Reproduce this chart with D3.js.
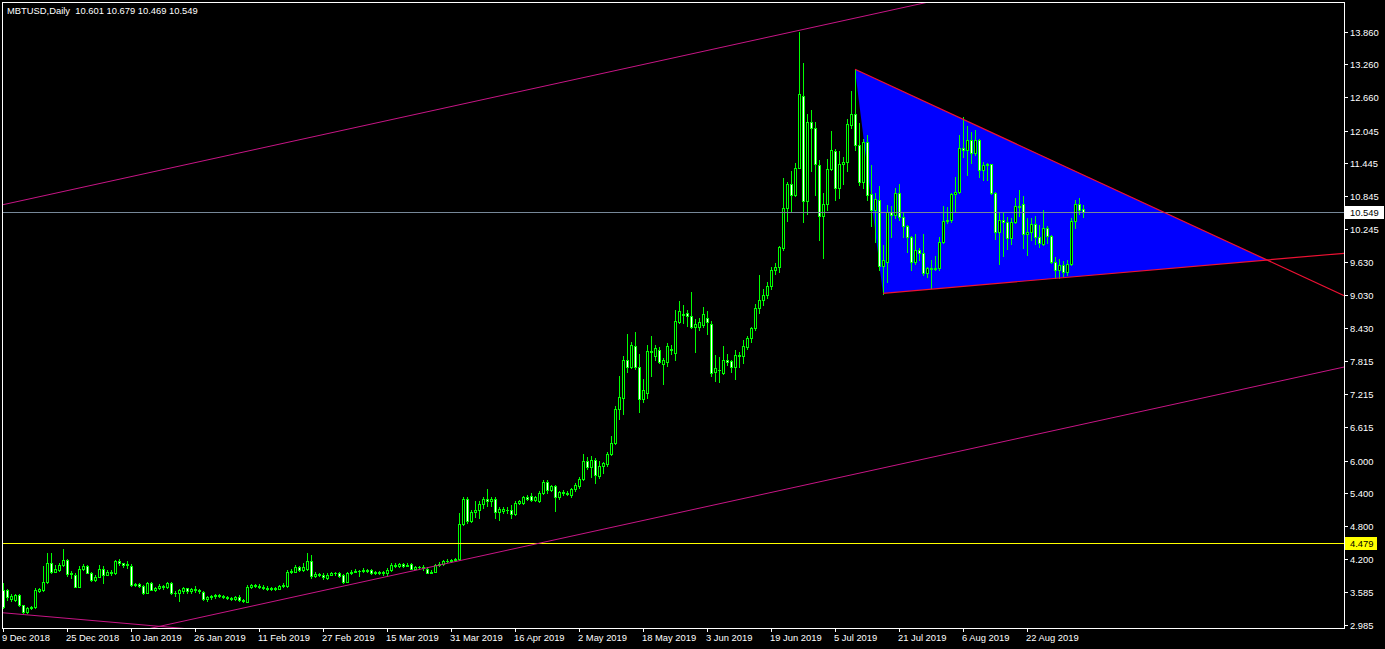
<!DOCTYPE html>
<html><head><meta charset="utf-8">
<script src="https://cdn.jsdelivr.net/npm/d3@7"></script>
<style>
html,body{margin:0;padding:0;background:#000;overflow:hidden}
svg{display:block}
text{font-family:"Liberation Sans",Arial,sans-serif;font-size:9.4px}
</style>
</head><body>
<svg id="chart" width="1385" height="649"></svg>
<script>
// ---------------- data ----------------
const symbolTitle = "MBTUSD,Daily  10.601 10.679 10.469 10.549";
const startDate = "2018-12-09"; // first daily bar, one bar per calendar day

const open = [
3.63,3.63,3.47,3.44,3.54,3.35,3.23,3.29,3.32,3.61,
3.63,3.78,4.13,3.96,4.00,4.09,4.18,3.92,3.90,3.69,
4.02,4.07,3.94,3.81,3.87,4.02,3.91,3.96,3.94,4.16,
4.12,4.09,4.07,3.72,3.73,3.70,3.58,3.76,3.63,3.66,
3.70,3.69,3.76,3.58,3.57,3.60,3.66,3.60,3.64,3.62,
3.59,3.47,3.49,3.51,3.54,3.52,3.50,3.48,3.46,3.50,
3.44,3.41,3.68,3.72,3.70,3.68,3.66,3.64,3.67,3.65,
3.70,3.70,3.96,3.96,4.04,4.00,4.02,4.15,3.88,3.92,
3.91,3.84,3.91,3.94,3.93,3.90,3.78,3.93,3.96,3.98,
3.97,3.99,3.99,3.93,3.96,3.94,3.93,3.99,4.08,4.06,
4.10,4.07,4.10,4.02,4.05,4.04,4.02,3.94,3.96,4.08,
4.10,4.16,4.16,4.17,4.19,4.84,5.29,4.90,5.05,5.09,
5.20,5.29,5.25,5.29,5.05,5.08,5.10,5.10,5.02,5.22,
5.22,5.33,5.35,5.28,5.26,5.40,5.61,5.46,5.53,5.33,
5.43,5.40,5.37,5.47,5.53,5.67,5.99,5.89,6.01,5.72,
5.90,5.93,6.12,6.32,6.94,7.14,7.84,7.72,8.10,7.71,
7.12,7.23,8.00,7.92,8.03,7.76,7.81,8.04,7.97,8.53,
8.68,8.70,8.65,8.44,8.44,8.48,8.61,8.50,7.62,7.66,
7.61,7.85,7.82,7.71,7.93,7.92,8.08,8.24,8.42,8.79,
8.94,9.03,9.20,9.49,9.55,9.89,10.62,11.06,10.86,11.37,
12.69,10.75,12.20,12.10,11.42,10.49,10.71,11.34,11.67,10.99,
11.43,11.47,12.15,12.35,11.78,11.11,11.84,10.88,10.60,10.78,
9.57,9.64,10.56,10.50,10.90,10.47,10.30,10.10,9.63,9.86,
9.80,9.43,9.52,9.51,9.53,10.01,10.39,10.40,10.88,10.93,
11.72,11.70,11.87,11.63,11.87,11.33,11.41,11.43,10.90,10.18,
10.40,10.38,10.07,10.38,10.67,10.70,10.15,10.19,10.34,10.09,
9.97,10.26,10.11,9.64,9.49,9.59,9.46,9.61,10.39,10.70,
10.601];

const high = [
3.75,3.65,3.55,3.56,3.56,3.36,3.31,3.34,3.66,3.67,
4.06,4.30,4.30,4.08,4.12,4.38,4.19,3.97,3.93,4.06,
4.10,4.09,3.96,3.90,4.08,4.06,4.00,3.99,4.18,4.19,
4.13,4.15,4.10,3.76,3.75,3.72,3.78,3.78,3.68,3.73,
3.72,3.78,3.78,3.60,3.64,3.68,3.67,3.66,3.70,3.64,
3.60,3.51,3.53,3.56,3.56,3.54,3.52,3.50,3.51,3.53,
3.46,3.72,3.74,3.73,3.73,3.72,3.70,3.68,3.69,3.72,
3.75,3.99,4.02,4.08,4.06,4.12,4.30,4.27,3.95,3.94,
3.93,3.93,3.96,3.96,3.95,3.92,3.96,3.99,4.01,4.00,
4.03,4.02,4.01,3.98,3.98,3.98,4.03,4.12,4.12,4.12,
4.12,4.13,4.12,4.07,4.07,4.08,4.05,3.99,4.11,4.14,
4.18,4.19,4.20,4.22,5.03,5.33,5.33,5.10,5.26,5.25,
5.34,5.48,5.34,5.34,5.15,5.14,5.14,5.18,5.25,5.28,
5.35,5.37,5.40,5.35,5.45,5.65,5.65,5.56,5.55,5.45,
5.46,5.44,5.50,5.58,5.70,6.12,6.06,6.08,6.05,5.99,
5.98,6.15,6.45,7.00,7.54,7.92,8.32,8.18,8.36,7.95,
7.49,8.11,8.28,8.11,8.08,7.88,8.15,8.12,8.75,8.92,
8.85,8.75,9.09,8.60,8.61,8.81,8.74,8.55,7.93,7.90,
8.09,7.95,7.84,8.03,7.99,8.21,8.28,8.45,8.87,9.40,
9.15,9.28,9.55,9.62,9.94,11.17,11.11,11.31,11.45,13.85,
13.28,12.36,12.43,12.20,11.50,10.90,11.53,12.04,11.71,11.67,
11.57,12.26,12.77,13.16,12.18,11.90,11.96,11.42,10.90,11.03,
9.95,10.68,10.67,10.99,11.07,10.55,10.32,10.12,10.16,9.89,
10.16,9.55,9.68,9.74,10.10,10.66,10.65,10.90,11.20,11.97,
12.30,12.13,12.03,12.05,11.90,11.48,11.45,11.44,10.92,10.53,
10.53,10.46,10.45,10.82,10.96,10.84,10.44,10.44,10.48,10.32,
10.59,10.30,10.14,9.73,9.70,9.66,9.68,10.44,10.78,10.81,
10.679];

const low = [
3.29,3.45,3.42,3.43,3.33,3.20,3.21,3.28,3.30,3.59,
3.61,3.76,3.94,3.95,3.98,4.07,3.88,3.85,3.68,3.68,
4.00,3.93,3.79,3.80,3.86,3.76,3.90,3.90,3.92,4.08,
4.05,4.03,3.70,3.70,3.68,3.56,3.57,3.62,3.60,3.64,
3.64,3.67,3.56,3.52,3.43,3.58,3.58,3.58,3.59,3.58,
3.44,3.42,3.46,3.48,3.50,3.48,3.46,3.44,3.44,3.43,
3.41,3.40,3.66,3.68,3.66,3.64,3.62,3.63,3.63,3.64,
3.68,3.69,3.93,3.95,3.97,3.98,4.00,3.85,3.86,3.88,
3.83,3.82,3.90,3.91,3.87,3.76,3.77,3.92,3.95,3.88,
3.96,3.95,3.92,3.92,3.92,3.91,3.90,3.98,4.04,4.04,
4.05,4.06,4.01,4.01,4.02,4.00,3.93,3.93,3.95,4.07,
4.09,4.14,4.14,4.15,4.17,4.81,4.85,4.88,4.97,4.94,
5.13,5.16,5.17,4.94,4.91,5.04,5.04,4.95,5.00,5.20,
5.20,5.28,5.26,5.26,5.24,5.38,5.40,5.44,5.08,5.30,
5.37,5.36,5.33,5.44,5.49,5.65,5.85,5.70,5.59,5.68,
5.78,5.90,6.10,6.30,6.77,6.86,7.63,7.70,7.68,6.89,
7.08,7.15,7.55,7.85,7.78,7.40,7.74,7.95,7.85,8.52,
8.52,8.47,8.42,7.98,8.40,8.45,8.31,7.54,7.46,7.44,
7.59,7.75,7.63,7.50,7.71,7.79,8.05,8.18,8.40,8.70,
8.85,8.98,9.15,9.42,9.45,9.86,10.39,10.56,10.85,11.36,
10.38,10.51,11.30,10.87,10.04,9.71,10.59,11.33,10.78,10.81,
11.06,11.30,12.10,11.70,11.05,10.99,10.78,10.30,10.00,9.49,
9.06,9.28,10.10,10.45,10.40,10.09,9.83,9.49,9.60,9.68,
9.40,9.37,9.16,9.49,9.49,9.98,10.35,10.38,10.56,10.90,
11.57,11.23,11.45,11.60,11.20,11.14,11.15,10.89,10.06,9.61,
9.75,9.88,9.96,10.35,10.48,9.89,9.77,10.05,9.96,9.92,
9.95,9.99,9.62,9.34,9.34,9.38,9.40,9.58,10.27,10.51,
10.469];

const close = [
3.32,3.50,3.52,3.54,3.35,3.23,3.29,3.32,3.63,3.64,
3.78,4.12,3.96,4.02,4.09,4.18,3.92,3.93,3.69,4.02,
4.07,3.94,3.81,3.87,4.02,3.91,3.96,3.94,4.15,4.12,
4.09,4.10,3.72,3.73,3.70,3.58,3.76,3.63,3.66,3.70,
3.68,3.76,3.58,3.57,3.63,3.66,3.60,3.64,3.62,3.60,
3.47,3.49,3.52,3.54,3.52,3.50,3.48,3.46,3.49,3.44,
3.43,3.68,3.72,3.70,3.68,3.66,3.64,3.67,3.65,3.70,
3.72,3.96,3.98,4.04,4.00,4.05,4.15,3.88,3.92,3.91,
3.86,3.91,3.94,3.93,3.89,3.78,3.93,3.96,3.98,3.97,
3.99,3.97,3.93,3.96,3.94,3.95,4.00,4.08,4.06,4.10,
4.07,4.09,4.02,4.05,4.04,4.03,3.94,3.96,4.08,4.10,
4.16,4.16,4.17,4.19,4.84,5.29,4.90,5.05,5.10,5.20,
5.29,5.25,5.29,5.05,5.11,5.12,5.09,5.02,5.23,5.25,
5.33,5.30,5.28,5.33,5.41,5.61,5.46,5.53,5.33,5.43,
5.40,5.39,5.47,5.55,5.67,5.99,5.89,6.01,5.74,5.90,
5.95,6.12,6.33,6.94,7.16,7.84,7.72,8.12,7.71,7.12,
7.29,8.01,7.98,8.06,7.81,7.85,8.10,8.03,8.56,8.74,
8.67,8.64,8.44,8.50,8.53,8.69,8.53,7.61,7.69,7.65,
7.85,7.81,7.71,7.93,7.91,8.10,8.24,8.42,8.79,8.94,
9.03,9.20,9.49,9.55,9.92,10.62,11.06,10.86,11.36,12.71,
10.75,12.20,12.10,11.43,10.49,10.71,11.34,11.69,10.99,11.43,
11.48,12.16,12.36,11.78,11.11,11.84,10.87,10.60,10.79,9.57,
9.68,10.56,10.50,10.90,10.47,10.30,10.10,9.63,9.86,9.80,
9.43,9.52,9.51,9.53,10.01,10.39,10.40,10.88,10.93,11.72,
11.70,11.87,11.63,11.87,11.33,11.41,11.43,10.90,10.18,10.40,
10.38,10.07,10.38,10.67,10.65,10.15,10.19,10.34,10.09,9.98,
10.26,10.11,9.64,9.49,9.59,9.46,9.61,10.39,10.70,10.60,
10.549];

const xTickLabels = ["9 Dec 2018","25 Dec 2018","10 Jan 2019","26 Jan 2019","11 Feb 2019",
  "27 Feb 2019","15 Mar 2019","31 Mar 2019","16 Apr 2019","2 May 2019","18 May 2019",
  "3 Jun 2019","19 Jun 2019","5 Jul 2019","21 Jul 2019","6 Aug 2019","22 Aug 2019"];
const yTickLabels = ["13.860","13.260","12.660","12.045","11.445","10.845","10.245","9.630",
  "9.030","8.430","7.815","7.215","6.615","6.000","5.400","4.800","4.200","3.585","2.985"];

const bidPrice = 10.549;      // current bid line
const levelPrice = 4.479;     // yellow horizontal level

// drawn objects (time, price anchors)
const channelUpper = [{date:"2018-12-09", price:10.689}, {date:"2019-07-27", price:14.382}];
const channelLower = [{date:"2019-04-01", price:4.146},  {date:"2019-09-05", price:6.666}];
const oldTrend     = [{date:"2018-12-09", price:3.209},  {date:"2019-01-18", price:2.955}];
const triangleA = {date:"2019-07-10", price:13.171};
const triangleB = {date:"2019-07-17", price:9.065};
const triangleC = {date:"2019-10-21", price:9.676};

// ---------------- drawing ----------------
const svg = d3.select("#chart");
const plot = {left:2, top:2, right:1344, bottom:628};
const parseISO = d3.utcParse("%Y-%m-%d");
const parseLabel = d3.utcParse("%e %b %Y");
const t0 = parseISO(startDate);

const x = d3.scaleUtc().domain([t0, d3.utcDay.offset(t0, 100)]).range([3, 403]);
const y = d3.scaleLinear().domain([2.985, 13.860]).range([625, 31.7]);

const bars = open.map((o, i) => ({date: d3.utcDay.offset(t0, i), o, h: high[i], l: low[i], c: close[i]}));

svg.append("rect").attr("width", 1385).attr("height", 649).attr("fill", "#000");

svg.append("defs").append("clipPath").attr("id", "plotClip")
  .append("rect").attr("x", plot.left).attr("y", plot.top)
  .attr("width", plot.right - plot.left).attr("height", plot.bottom - plot.top);

const g = svg.append("g").attr("clip-path", "url(#plotClip)");

const P = d => ({px: x(parseISO(d.date)), py: y(d.price)});

// triangle (background object)
const A = P(triangleA), B = P(triangleB), C = P(triangleC);
g.append("polygon")
  .attr("points", [A, B, C].map(p => p.px + "," + p.py).join(" "))
  .attr("fill", "#0000ff");

// candles
const cg = g.append("g").attr("shape-rendering", "crispEdges");
bars.forEach(d => {
  const cx = Math.round(x(d.date));
  cg.append("line")
    .attr("x1", cx + 0.5).attr("x2", cx + 0.5)
    .attr("y1", Math.round(y(d.h))).attr("y2", Math.round(y(d.l)) + 1)
    .attr("stroke", "#00ff00").attr("stroke-width", 1);
  const yo = Math.round(y(d.o)), yc = Math.round(y(d.c));
  const top = Math.min(yo, yc), bot = Math.max(yo, yc);
  if (bot - top < 1) {
    cg.append("line").attr("x1", cx - 1).attr("x2", cx + 2)
      .attr("y1", top + 0.5).attr("y2", top + 0.5)
      .attr("stroke", "#00ff00").attr("stroke-width", 1);
  } else {
    cg.append("rect")
      .attr("x", cx - 0.5).attr("y", top + 0.5)
      .attr("width", 2).attr("height", bot - top)
      .attr("fill", d.c >= d.o ? "#000000" : "#ffffff")
      .attr("stroke", "#00ff00").attr("stroke-width", 1);
  }
});

// helper: line through two pixel points, evaluated at given x
function lineAt(p1, p2, xx) { return p1.py + (p2.py - p1.py) * (xx - p1.px) / (p2.px - p1.px); }
function fullLine(anchors, color) {
  const p1 = P(anchors[0]), p2 = P(anchors[1]);
  g.append("line").attr("x1", -20).attr("y1", lineAt(p1, p2, -20))
    .attr("x2", 1400).attr("y2", lineAt(p1, p2, 1400))
    .attr("stroke", color).attr("stroke-width", 1);
}
function ray(p1, p2, color) {
  g.append("line").attr("x1", p1.px).attr("y1", p1.py)
    .attr("x2", 1400).attr("y2", lineAt(p1, p2, 1400))
    .attr("stroke", color).attr("stroke-width", 1.2);
}

// horizontal lines
g.append("line").attr("x1", plot.left).attr("x2", plot.right)
  .attr("y1", Math.round(y(levelPrice)) + 0.5).attr("y2", Math.round(y(levelPrice)) + 0.5)
  .attr("stroke", "#ffff00").attr("stroke-width", 1);
g.append("line").attr("x1", plot.left).attr("x2", plot.right)
  .attr("y1", Math.round(y(bidPrice)) + 0.5).attr("y2", Math.round(y(bidPrice)) + 0.5)
  .attr("stroke", "#778899").attr("stroke-width", 1);

// channel + trend lines
fullLine(channelUpper, "#c71585");
fullLine(channelLower, "#c71585");
fullLine(oldTrend, "#c71585");
ray(A, C, "#ee1133");
ray(B, C, "#ee1133");

// frame
svg.append("rect").attr("x", plot.left + 0.5).attr("y", plot.top + 0.5)
  .attr("width", plot.right - plot.left).attr("height", plot.bottom - plot.top)
  .attr("fill", "none").attr("stroke", "#ffffff").attr("stroke-width", 1)
  .attr("shape-rendering", "crispEdges");

// price axis
const ya = svg.append("g");
yTickLabels.forEach(t => {
  const yy = Math.round(y(+t)) + 0.5;
  ya.append("line").attr("x1", plot.right).attr("x2", plot.right + 4)
    .attr("y1", yy).attr("y2", yy).attr("stroke", "#fff").attr("shape-rendering", "crispEdges");
  ya.append("text").attr("x", plot.right + 6).attr("y", yy + 3.3)
    .attr("fill", "#fff").text(t);
});

// price tags
function tag(price, bg, w) {
  const yy = Math.round(y(price));
  ya.append("rect").attr("x", plot.right + 1).attr("y", yy - 6)
    .attr("width", w).attr("height", 13).attr("fill", bg);
  ya.append("text").attr("x", plot.right + 6).attr("y", yy + 3.8)
    .attr("fill", "#000").text(d3.format(".3f")(price));
}
tag(bidPrice, "#ffffff", 39);
tag(levelPrice, "#ffff00", 32);

// time axis
const xa = svg.append("g");
xTickLabels.forEach(t => {
  const xx = Math.round(x(parseLabel(t))) + 0.5;
  xa.append("line").attr("x1", xx).attr("x2", xx)
    .attr("y1", plot.bottom).attr("y2", plot.bottom + 4)
    .attr("stroke", "#fff").attr("shape-rendering", "crispEdges");
  xa.append("text").attr("x", xx - 1.5).attr("y", 640.5).attr("fill", "#fff").text(t);
});

// title
svg.append("text").attr("x", 7).attr("y", 14).attr("fill", "#fff")
  .style("white-space", "pre").text(symbolTitle);
</script>
</body></html>
